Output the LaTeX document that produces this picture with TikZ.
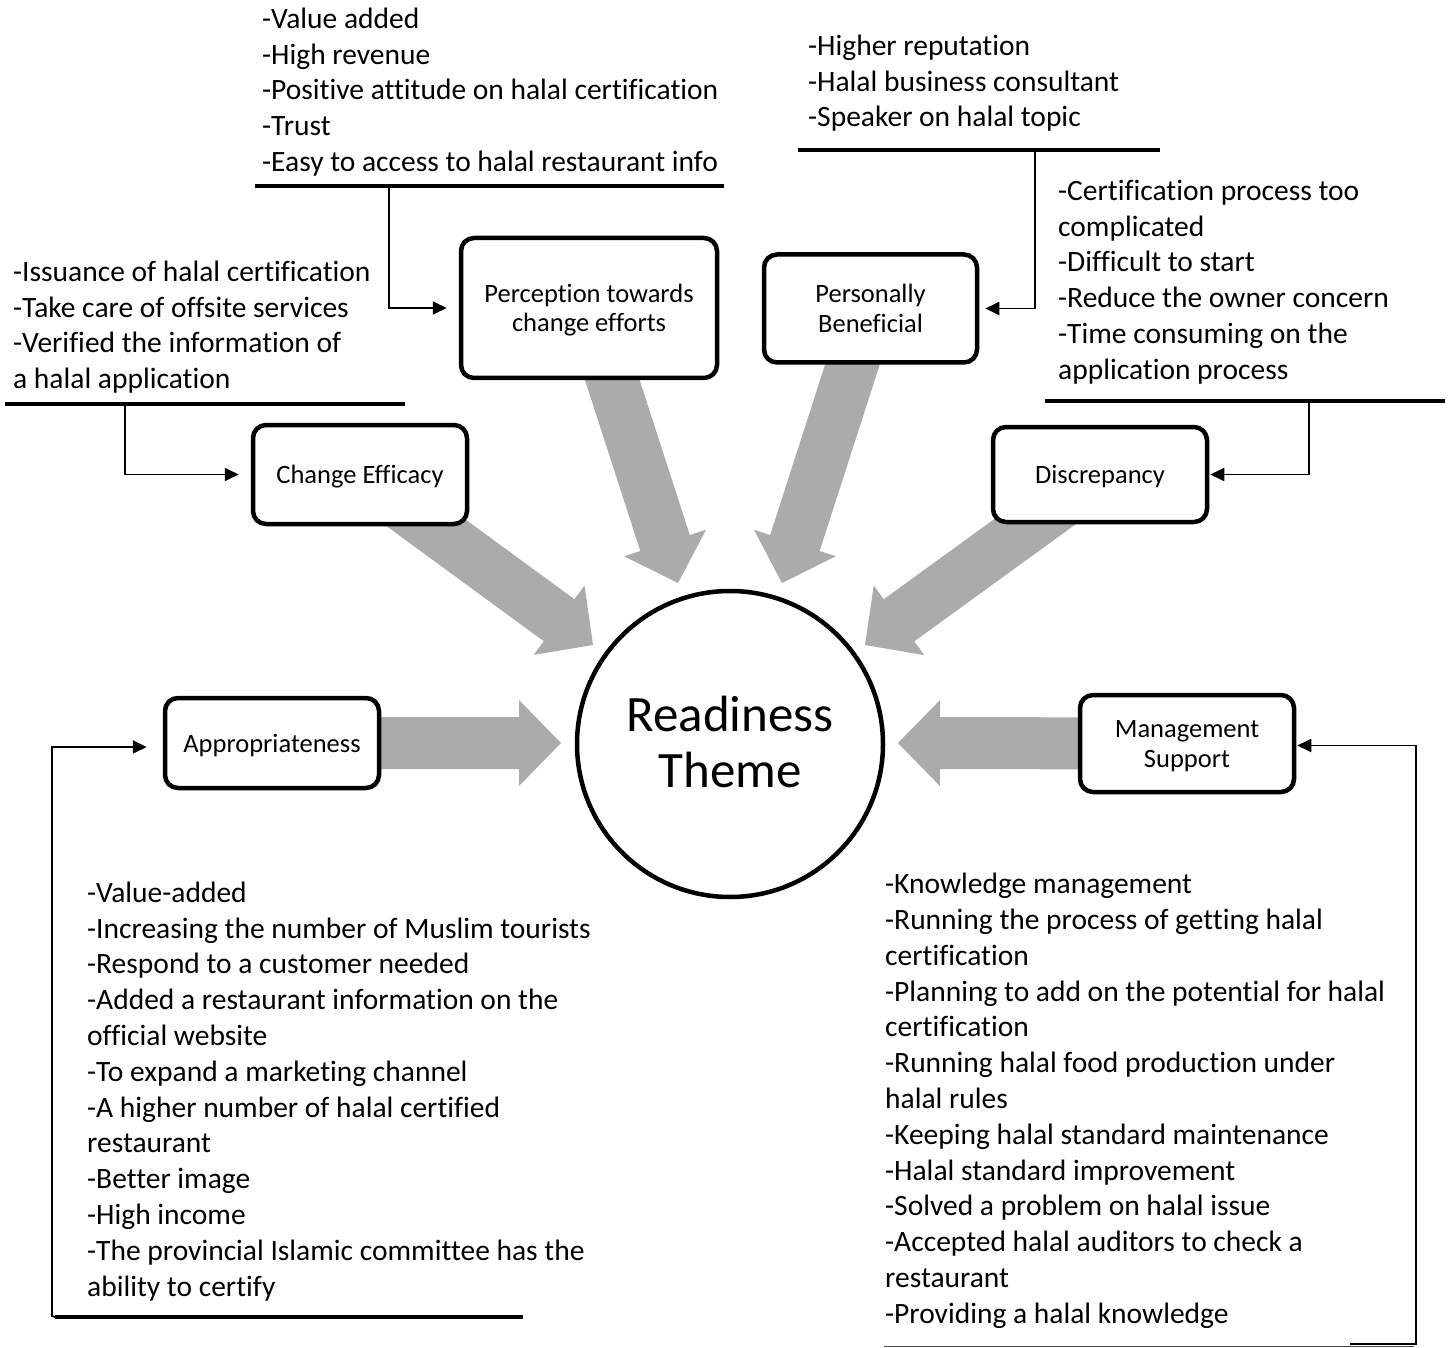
\documentclass[tikz,border=0pt]{standalone}
\usepackage{fontspec}
\setmainfont{Carlito}[Ligatures={TeX,NoCommon}]
\usetikzlibrary{arrows.meta,calc}
\definecolor{arrowgray}{HTML}{ABABAB}
\newcommand\bxs{\rule[-6pt]{0pt}{30pt}}
\newcommand\bxe{\rule[-6pt]{0pt}{10pt}}
\tikzset{
  stepbox/.style={draw, line width=4.5pt, rounded corners=13pt, fill=white, align=center, inner sep=0pt, font=\fontsize{26.5}{29.5}\selectfont},
  listtext/.style={anchor=north west, align=left, inner sep=0pt, font=\fontsize{29.5}{35.8}\selectfont},
  uline/.style={line width=3.5pt},
  conn/.style={line width=1.8pt, -{Triangle[length=14pt,width=13pt]}},
}
\newcommand\blockarrow[2]{%
  \coordinate (bh) at ($(#2)!42pt!(#1)$);
  \fill[arrowgray] ($(#1)!26pt!90:(#2)$) -- ($(bh)!26pt!90:(#2)$) -- ($(bh)!43pt!90:(#2)$) -- (#2) -- ($(bh)!43pt!-90:(#2)$) -- ($(bh)!26pt!-90:(#2)$) -- ($(#1)!26pt!-90:(#2)$) -- cycle;
}
\begin{document}
\begin{tikzpicture}[x=1pt,y=-1pt]
\fill[white] (0,0) rectangle (1449,1348);
\useasboundingbox (0,0) rectangle (1449,1348);

% centres of boxes
\coordinate (perc-c) at (589,308);
\coordinate (pers-c) at (870.5,308.5);
\coordinate (ce-c) at (360,474.5);
\coordinate (disc-c) at (1100,474.5);
\coordinate (appr-c) at (272,743);
\coordinate (mgmt-c) at (1187,743.5);
% arrow tips
\coordinate (t-ce) at (593,645);
\coordinate (t-perc) at (678,583);
\coordinate (t-pers) at (782,583);
\coordinate (t-disc) at (865,645);
\coordinate (t-appr) at (561,743);
\coordinate (t-mgmt) at (898,743);

\blockarrow{ce-c}{t-ce}
\blockarrow{perc-c}{t-perc}
\blockarrow{pers-c}{t-pers}
\blockarrow{disc-c}{t-disc}
\blockarrow{appr-c}{t-appr}
\blockarrow{mgmt-c}{t-mgmt}

% boxes
\node[stepbox, minimum width=256pt, minimum height=140pt] (perc) at (perc-c) {\bxs Perception towards\\change efforts\bxe};
\node[stepbox, minimum width=213pt, minimum height=108pt] (pers) at (pers-c) {\bxs Personally\\Beneficial\bxe};
\node[stepbox, minimum width=214pt, minimum height=99pt] (ce) at (ce-c) {\bxs Change Efficacy};
\node[stepbox, minimum width=214pt, minimum height=95pt] (disc) at (disc-c) {\bxs Discrepancy};
\node[stepbox, minimum width=214pt, minimum height=90pt] (appr) at (appr-c) {\bxs Appropriateness};
\node[stepbox, minimum width=214pt, minimum height=97pt] (mgmt) at (mgmt-c) {\bxs Management\\Support\bxe};

\node[draw, circle, line width=4.5pt, minimum size=306pt, inner sep=0pt, align=center, font=\fontsize{51}{56}\selectfont] (theme) at (730,744) {Readiness\\Theme\rule[-4pt]{0pt}{1pt}};

% text blocks
\node[listtext] (l-top) at (262,3) {\strut-Value added\\-High revenue\\-Positive attitude on halal certification\\-Trust\\-Easy to access to halal restaurant info};
\node[listtext] (l-topr) at (808,30) {\strut-Higher reputation\\-Halal business consultant\\-Speaker on halal topic};
\node[listtext] (l-left) at (13,256) {\strut-Issuance of halal certification\\-Take care of offsite services\\-Verified the information of\\a halal application};
\node[listtext] (l-disc) at (1058,175) {\strut-Certification process too\\complicated\\-Difficult to start\\-Reduce the owner concern\\-Time consuming on the\\application process};
\node[listtext] (l-botl) at (87,877) {\strut-Value-added\\-Increasing the number of Muslim tourists\\-Respond to a customer needed\\-Added a restaurant information on the\\official website\\-To expand a marketing channel\\-A higher number of halal certified\\restaurant\\-Better image\\-High income\\-The provincial Islamic committee has the\\ability to certify};
\node[listtext] (l-botr) at (885,868.5) {\strut-Knowledge management\\-Running the process of getting halal\\certification\\-Planning to add on the potential for halal\\certification\\-Running halal food production under\\halal rules\\-Keeping halal standard maintenance\\-Halal standard improvement\\-Solved a problem on halal issue\\-Accepted halal auditors to check a\\restaurant\\-Providing a halal knowledge};

% underlines
\coordinate (u1a) at (255,186); \coordinate (u1b) at (724,186); \coordinate (u1) at (389,186);
\coordinate (u2a) at (798,150); \coordinate (u2b) at (1160,150); \coordinate (u2) at (1035,150);
\coordinate (u3a) at (5,404); \coordinate (u3b) at (405,404); \coordinate (u3) at (125,404);
\coordinate (u4a) at (1045,401); \coordinate (u4b) at (1445,401); \coordinate (u4) at (1309,401);
\coordinate (u5a) at (55,1317); \coordinate (u5b) at (523,1317); \coordinate (u5) at (52,1316);
\coordinate (u6a) at (884,1346.5); \coordinate (u6b) at (1414,1346.5);
\coordinate (u6c) at (1350,1344); \coordinate (u6) at (1416,1344);

\draw[uline] (u1a) -- (u1b);
\draw[uline] (u2a) -- (u2b);
\draw[uline] (u3a) -- (u3b);
\draw[uline] (u4a) -- (u4b);
\draw[uline] (u5a) -- (u5b);
\draw[line width=1.5pt, black!70] (u6a) -- (u6b);

% connectors
\draw[conn, shorten >=12pt] (u1) |- (perc.west);
\draw[conn, shorten >=6pt] (u2) |- (pers.east);
\draw[conn, shorten >=12pt] (u3) |- (ce.west);
\draw[conn, shorten >=1pt] (u4) |- (disc.east);
\draw[conn, shorten >=16pt] (u5a) -- (u5) |- ([yshift=-4pt]appr.west);
\draw[conn, shorten >=1pt] (u6c) -- (u6) |- ([yshift=-2pt]mgmt.east);
\end{tikzpicture}
\end{document}
